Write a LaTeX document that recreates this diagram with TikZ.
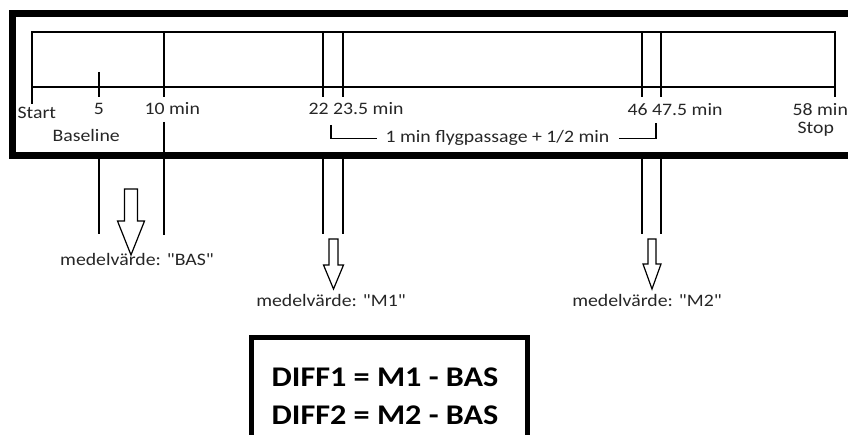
\documentclass[tikz,border=0pt]{standalone}
\usepackage{fontspec}
\setmainfont{Carlito}[FakeStretch=1.13, Ligatures=TeXOff]
\usetikzlibrary{calc}

\begin{document}
\begin{tikzpicture}[x=1pt, y=-1pt, line width=1.3pt,
    lbl/.style={inner sep=0, anchor=base west, text=black!85,
        font=\fontsize{17.5}{20}\selectfont},
    diffrad/.style={inner sep=0, anchor=base west,
        font=\fontsize{28.5}{36}\selectfont\bfseries},
    blockpil/.style={draw, line width=1.2pt, fill=white, line join=miter}]
        \useasboundingbox (0,0) rectangle (848,435);
        \clip (0,0) rectangle (848,435);

        % tidsaxel (timeline)
        \coordinate (ax_l) at (32,87);
        \coordinate (ax_r) at (835,87);
        \draw (32,104) -- (32,32) -- (835,32) -- (835,97);
        \draw (ax_l) -- (ax_r);
        \draw (99,72) -- (99,97);
        \foreach \x in {164,323,343,642,661}
            \draw (\x,32) -- (\x,97);

        % linjer under ramen
        \draw (164,122) -- (164,235);
        \foreach \x in {99,323,343,642,661}
            \draw (\x,157) -- (\x,234);

        % texter vid axeln
        \node[lbl] (start) at (17,119) {Start};
        \node[lbl, anchor=base] (fem) at (99,115) {5};
        \node[lbl] (tio) at (144,115) {10 min};
        \node[lbl] (m22) at (308,115) {22 23.5 min};
        \node[lbl] (m46) at (627,116) {46 47.5 min};
        \node[lbl] (m58) at (792,116) {58 min};
        \node[lbl] (stop) at (797,134) {Stop};
        \node[lbl] (baseline) at (52,142) {Baseline};

        % klammer: flygpassage
        \node[lbl] (flyg) at (385,143) {1 min flygpassage + 1/2 min};
        \coordinate (kl_l) at (331,125);
        \coordinate (kl_r) at (656,123);
        \draw (kl_l) |- ($(flyg.west)+(-8,0)$);
        \draw ($(flyg.east)+(9,0)$) -| (kl_r);

        % tjock ram runt tidsaxeln
        \draw[line width=7pt] (870,13.5) -- (12.5,13.5) -- (12.5,155.5) -- (870,155.5);

        % ihaliga pilar
        \foreach \cx/\ya/\yb/\yc/\s/\h in {131/189/221/255/6.5/13.5,
                333.5/239/265/289/4.5/10, 652/239/264/289/4/9}
            \draw[blockpil] (\cx-\s,\ya) -- (\cx+\s,\ya) -- (\cx+\s,\yb)
                -- (\cx+\h,\yb) -- (\cx,\yc) -- (\cx-\h,\yb)
                -- (\cx-\s,\yb) -- cycle;

        % medelvärden
        \node[lbl, anchor=base] (bas) at (137,266) {medelvärde: "BAS"};
        \node[lbl, anchor=base] (m1) at (331,307) {medelvärde: "M1"};
        \node[lbl, anchor=base] (m2) at (647,307) {medelvärde: "M2"};

        % differensrutan
        \draw[line width=5pt] (251.5,460) -- (251.5,337) -- (527.5,337) -- (527.5,460);
        \node[diffrad] (diff1) at (271,386) {DIFF1 = M1 - BAS};
        \node[diffrad] (diff2) at (271,424) {DIFF2 = M2 - BAS};
    \end{tikzpicture}
\end{document}
